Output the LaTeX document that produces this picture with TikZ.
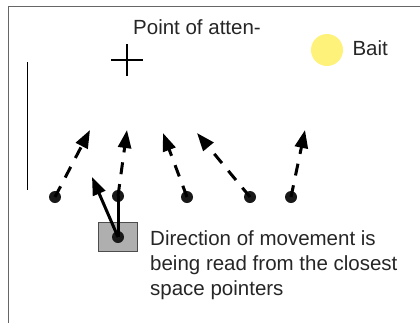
\documentclass[tikz,border=0pt]{standalone}
\usepackage{fontspec}
\setmainfont{Liberation Sans}
\usetikzlibrary{arrows.meta,positioning}
\definecolor{baitcolor}{RGB}{255,242,122}
\definecolor{boxgray}{RGB}{175,175,175}
\tikzset{
  spot/.style={circle,fill=black!90,inner sep=0pt,minimum size=12pt},
  pointer/.style={-{Triangle[length=18pt,width=13pt]},line width=3pt,dash pattern=on 12pt off 10pt},
  readarrow/.style={-{Triangle[length=18pt,width=13pt]},line width=3pt},
}

\begin{document}
\begin{tikzpicture}[x=1pt,y=-1pt,font=\fontsize{20.5}{25}\selectfont,line join=miter]
        \useasboundingbox (0,0) rectangle (420,322);
        % frame
        \draw[gray!80!black,line width=1pt] (8,340) -- (8,6) -- (440,6);
        \draw[line width=1pt] (27,62) -- (27,190);
        % point of attention
        \node[text=black!85] (attn) at (197,27) {Point of atten-};
        \draw[line width=1.8pt] (111,60) -- (143,60) (127,44) -- (127,76);
        % bait
        \fill[baitcolor] (327,50) circle (16);
        \node[text=black!85,anchor=west] (bait) at (349,48) {Bait};
        % space pointers
        \node[spot] (p1) at (55,197) {};
        \node[spot] (p2) at (118,196) {};
        \node[spot] (p3) at (187,197) {};
        \node[spot] (p4) at (250,197) {};
        \node[spot] (p5) at (291,197) {};
        \coordinate (t1) at (90,130);
        \coordinate (t2) at (127,130);
        \coordinate (t3) at (163,133);
        \coordinate (t4) at (197,133);
        \coordinate (t5) at (305,130);
        \foreach \i in {1,...,5}
          \draw[pointer] (p\i.center) -- (t\i);
        % agent
        \node[draw=black!70,fill=boxgray,line width=1pt,minimum width=39pt,minimum height=29pt,inner sep=0pt] (agent) at (118,237) {};
        \node[spot] (a) at (118,237) {};
        \coordinate (move) at (92,177);
        \draw[line width=3pt] (a.center) -- (p2.center);
        \draw[readarrow] (a.center) -- (move);
        \node[text=black!85,anchor=west,align=left,inner sep=0pt] (note) at (150,265)
          {Direction of movement is\\being read from the closest\\space pointers};
      \end{tikzpicture}
\end{document}
